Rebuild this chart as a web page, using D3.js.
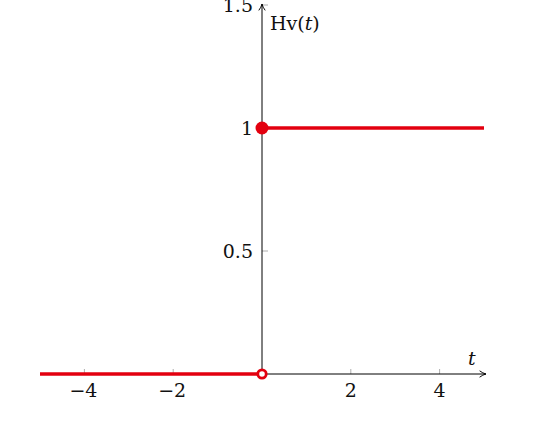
<!DOCTYPE html>
<html><head><meta charset="utf-8">
<script src="https://cdn.jsdelivr.net/npm/d3@7"></script>
<style>body{margin:0;background:#fff}svg{display:block}text{font-family:"DejaVu Serif","Liberation Serif",serif;fill:#111}</style>
</head><body>
<script>
const xTicks = [-4, -2, 2, 4];
const yTicks = [0.5, 1, 1.5];
const yTickLabels = ["0.5", "1", "1.5"];
const xTickLabels = ["\u22124", "\u22122", "2", "4"];
const segments = [
  {x0: -5, x1: 0, y: 0},
  {x0: 0, x1: 5, y: 1}
];
const filledPoints = [{x: 0, y: 1}];
const openPoints = [{x: 0, y: 0}];

const W = 540, H = 434;
const x = d3.scaleLinear().domain([-5, 5]).range([40, 484]);
const y = d3.scaleLinear().domain([0, 1.5]).range([374, 5]);
const svg = d3.select("body").append("svg").attr("width", W).attr("height", H);

svg.append("defs").append("marker").attr("id","arr").attr("viewBox","0 0 10 10")
  .attr("refX",9).attr("refY",5).attr("markerWidth",8).attr("markerHeight",8).attr("orient","auto")
  .attr("markerUnits","userSpaceOnUse")
  .append("path").attr("d","M1,1 Q5,4 9,5 Q5,6 1,9").attr("fill","none").attr("stroke","#000").attr("stroke-width",1.2);

// ticks
const tg = svg.append("g").attr("stroke","#999").attr("stroke-width",0.8);
xTicks.forEach(t => tg.append("line").attr("x1",x(t)).attr("x2",x(t)).attr("y1",y(0)).attr("y2",y(0)-5));
yTicks.forEach(t => tg.append("line").attr("x1",x(0)).attr("x2",x(0)+6).attr("y1",y(t)).attr("y2",y(t)));

// axes
svg.append("line").attr("x1",x(-5)).attr("x2",x(5)+2).attr("y1",y(0)).attr("y2",y(0))
  .attr("stroke","#000").attr("stroke-width",1).attr("marker-end","url(#arr)");
svg.append("line").attr("x1",x(0)).attr("x2",x(0)).attr("y1",y(0)).attr("y2",y(1.5)-1)
  .attr("stroke","#000").attr("stroke-width",1).attr("marker-end","url(#arr)");

// tick labels
svg.selectAll(".xl").data(xTicks).enter().append("text")
  .attr("x", d => x(d) - (d < 0 ? 1 : 0)).attr("y", y(0) + 23).attr("text-anchor","middle").attr("font-size",19)
  .text((d,i) => xTickLabels[i]);
svg.selectAll(".yl").data(yTicks).enter().append("text")
  .attr("x", x(0) - 9).attr("y", d => y(d) + 7).attr("text-anchor","end").attr("font-size",19)
  .text((d,i) => yTickLabels[i]);

// axis labels
const lab = svg.append("text").attr("x", x(0) + 8).attr("y", 30).attr("font-size",19);
lab.append("tspan").text("Hv(");
lab.append("tspan").attr("font-style","italic").text("t");
lab.append("tspan").text(")");
svg.append("text").attr("x", 468).attr("y", 365).attr("font-size",19).attr("font-style","italic").text("t");

// data
const red = "#e3000f";
svg.selectAll(".seg").data(segments).enter().append("line")
  .attr("x1", d => x(d.x0)).attr("x2", d => x(d.x1))
  .attr("y1", d => y(d.y)).attr("y2", d => y(d.y))
  .attr("stroke", red).attr("stroke-width", 3.4);
svg.selectAll(".fp").data(filledPoints).enter().append("circle")
  .attr("cx", d => x(d.x)).attr("cy", d => y(d.y)).attr("r", 6.5).attr("fill", red);
svg.selectAll(".op").data(openPoints).enter().append("circle")
  .attr("cx", d => x(d.x)).attr("cy", d => y(d.y)).attr("r", 4.2).attr("fill", "#fff")
  .attr("stroke", red).attr("stroke-width", 2.8);
</script>
</body></html>
